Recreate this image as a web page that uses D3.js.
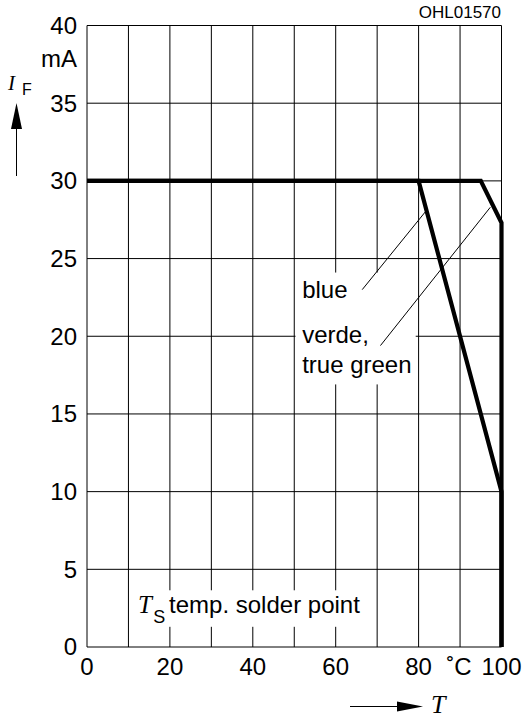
<!DOCTYPE html>
<html>
<head>
<meta charset="utf-8">
<script src="https://cdn.jsdelivr.net/npm/d3@7"></script>
<style>
  html, body { margin: 0; padding: 0; background: #fff; }
  svg { display: block; }
  text { font-family: "Liberation Sans", Arial, sans-serif; fill: #000; }
  .it { font-family: "Liberation Serif", "Times New Roman", serif; font-style: italic; }
</style>
</head>
<body>
<div id="chart"></div>
<script>
// temperature (°C) on x, forward current (mA) on y
var xTicks = [0, 20, 40, 60, 80, 100];
var xGrid = [0, 10, 20, 30, 40, 50, 60, 70, 80, 90, 100];
var yTicks = [0, 5, 10, 15, 20, 25, 30, 35, 40];

// derating curves
var blueT = [0, 80, 100, 100];
var blueI = [30, 30, 10, 0];
var verdeT = [0, 95, 100, 100];
var verdeI = [30, 30, 27.3, 0];

var W = 523, H = 718;
var svg = d3.select('#chart').append('svg').attr('width', W).attr('height', H);

var x = d3.scaleLinear().domain([0, 100]).range([87, 501.5]);
var y = d3.scaleLinear().domain([0, 40]).range([647, 25.5]);

// grid
var grid = svg.append('g');
grid.selectAll('line.v').data(xGrid).enter().append('line')
  .attr('x1', function(d){ return x(d); }).attr('x2', function(d){ return x(d); })
  .attr('y1', y(0)).attr('y2', y(40))
  .attr('stroke', '#000').attr('stroke-width', 1);
grid.selectAll('line.h').data(yTicks).enter().append('line')
  .attr('y1', function(d){ return y(d); }).attr('y2', function(d){ return y(d); })
  .attr('x1', x(0)).attr('x2', x(100))
  .attr('stroke', '#000').attr('stroke-width', 1);

// white boxes behind labels
svg.append('rect')
  .attr('x', x(12.1)).attr('y', y(3.65))
  .attr('width', x(68.3) - x(12.1)).attr('height', y(1.3) - y(3.65))
  .attr('fill', '#fff');
svg.append('rect')
  .attr('x', x(50.3)).attr('y', y(24.1))
  .attr('width', x(79.3) - x(50.3)).attr('height', y(16.9) - y(24.1))
  .attr('fill', '#fff');

// curves
var line = d3.line()
  .x(function(d){ return x(d[0]); })
  .y(function(d){ return y(d[1]); });
function pairs(ts, is) { return ts.map(function(t, i){ return [t, is[i]]; }); }

svg.append('path').datum(pairs(verdeT, verdeI)).attr('d', line)
  .attr('fill', 'none').attr('stroke', '#000').attr('stroke-width', 4.2)
  .attr('stroke-linejoin', 'miter');
svg.append('path').datum(pairs(blueT, blueI)).attr('d', line)
  .attr('fill', 'none').attr('stroke', '#000').attr('stroke-width', 4.2)
  .attr('stroke-linejoin', 'miter');

// leader lines
var leaders = [[[66.4, 23.0], [81.6, 28.0]], [[70.8, 19.4], [97.3, 28.3]]];
svg.selectAll('path.leader').data(leaders).enter().append('path')
  .attr('d', line).attr('fill', 'none').attr('stroke', '#000').attr('stroke-width', 1);

// curve labels
svg.append('text').attr('x', x(51.9)).attr('y', y(22.46)).attr('font-size', 24).text('blue');
svg.append('text').attr('x', x(51.9)).attr('y', y(19.56)).attr('font-size', 24).text('verde,');
svg.append('text').attr('x', x(51.9)).attr('y', y(17.65)).attr('font-size', 24).text('true green');

// T_S label
svg.append('text').attr('class', 'it').attr('x', x(12.3)).attr('y', y(2.2)).attr('font-size', 25).text('T');
svg.append('text').attr('x', x(16)).attr('y', y(1.55)).attr('font-size', 18).text('S');
svg.append('text').attr('x', x(19.8)).attr('y', y(2.2)).attr('font-size', 24).text('temp. solder point');

// tick labels
svg.selectAll('text.yt').data(yTicks).enter().append('text')
  .attr('x', 77).attr('y', function(d){ return y(d); }).attr('dy', '0.35em')
  .attr('text-anchor', 'end').attr('font-size', 24)
  .text(function(d){ return d; });
svg.selectAll('text.xt').data(xTicks).enter().append('text')
  .attr('x', function(d){ return x(d); }).attr('y', 675)
  .attr('text-anchor', 'middle').attr('font-size', 24)
  .text(function(d){ return d; });
svg.append('text').attr('x', x(90) - 1).attr('y', 675).attr('text-anchor', 'middle')
  .attr('font-size', 24).text('˚C');

// axis titles
svg.append('text').attr('x', 77).attr('y', 67).attr('text-anchor', 'end').attr('font-size', 24).text('mA');
svg.append('text').attr('class', 'it').attr('x', 8).attr('y', 90).attr('font-size', 21).text('I');
svg.append('text').attr('x', 22).attr('y', 95).attr('font-size', 16).text('F');

svg.append('line').attr('x1', 16.5).attr('x2', 16.5).attr('y1', 125).attr('y2', 176)
  .attr('stroke', '#000').attr('stroke-width', 1);
svg.append('path').attr('d', 'M16.5,103 L11,129 L22,129 Z').attr('fill', '#000');

svg.append('line').attr('x1', 350).attr('x2', 400).attr('y1', 706.5).attr('y2', 706.5)
  .attr('stroke', '#000').attr('stroke-width', 1);
svg.append('path').attr('d', 'M423,706.5 L397,701.5 L397,711.5 Z').attr('fill', '#000');
svg.append('text').attr('class', 'it').attr('x', 431).attr('y', 713).attr('font-size', 26).text('T');

svg.append('text').attr('x', 501).attr('y', 18).attr('text-anchor', 'end').attr('font-size', 17).text('OHL01570');
</script>
</body>
</html>
